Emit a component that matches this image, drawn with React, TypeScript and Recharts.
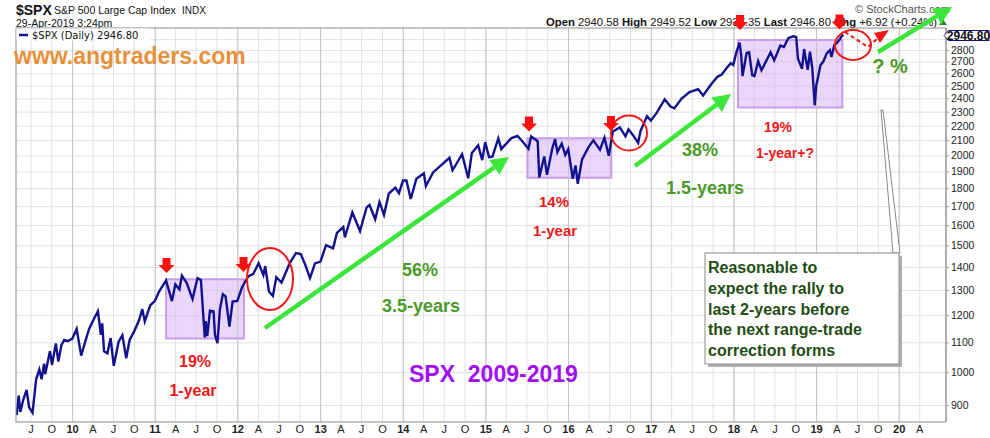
import { CartesianGrid, Line, LineChart, ReferenceArea, ReferenceLine, XAxis, YAxis } from "recharts";

// SPX closes (roughly twice a month, with swing highs / lows)
const dates = [
    "2009-04-29", "2009-05-08", "2009-05-15", "2009-05-29", "2009-06-12", "2009-06-23", "2009-07-08", "2009-07-24", "2009-08-07", "2009-08-17", "2009-08-28", "2009-09-02", "2009-09-23", "2009-10-02", "2009-10-19", "2009-10-30", "2009-11-13", "2009-11-25", "2009-12-11", "2009-12-31",
    "2010-01-19", "2010-02-08", "2010-02-26", "2010-03-15", "2010-04-05", "2010-04-23", "2010-05-06", "2010-05-12", "2010-05-20", "2010-06-04", "2010-06-18", "2010-07-02", "2010-07-23", "2010-08-09", "2010-08-26", "2010-09-10", "2010-09-30", "2010-10-22", "2010-11-05", "2010-11-16", "2010-12-10", "2010-12-31",
    "2011-01-18", "2011-02-18", "2011-03-16", "2011-03-31", "2011-04-18", "2011-04-29", "2011-05-20", "2011-06-15", "2011-07-07", "2011-07-22", "2011-08-08", "2011-08-12", "2011-08-19", "2011-08-31", "2011-09-16", "2011-09-22", "2011-10-03", "2011-10-14", "2011-10-27", "2011-11-08", "2011-11-25", "2011-12-09", "2011-12-30",
    "2012-01-20", "2012-02-17", "2012-03-09", "2012-04-02", "2012-04-23", "2012-05-01", "2012-05-18", "2012-06-04", "2012-06-19", "2012-07-12", "2012-08-17", "2012-09-14", "2012-10-05", "2012-10-25", "2012-11-15", "2012-12-07", "2012-12-31",
    "2013-01-25", "2013-02-25", "2013-03-14", "2013-04-11", "2013-04-18", "2013-05-21", "2013-06-24", "2013-07-23", "2013-08-05", "2013-08-30", "2013-09-18", "2013-10-08", "2013-10-29", "2013-11-27", "2013-12-13", "2013-12-31",
    "2014-01-15", "2014-02-03", "2014-02-28", "2014-04-02", "2014-04-11", "2014-05-13", "2014-06-24", "2014-07-24", "2014-08-07", "2014-09-18", "2014-10-15", "2014-10-31", "2014-11-28", "2014-12-16", "2014-12-29",
    "2015-01-15", "2015-01-30", "2015-02-25", "2015-03-10", "2015-04-24", "2015-05-21", "2015-06-12", "2015-07-08", "2015-07-20", "2015-08-18", "2015-08-25", "2015-09-16", "2015-09-28", "2015-10-22", "2015-11-03", "2015-11-13", "2015-12-02", "2015-12-18", "2015-12-31",
    "2016-01-20", "2016-02-01", "2016-02-11", "2016-03-01", "2016-03-31", "2016-04-20", "2016-05-19", "2016-06-08", "2016-06-27", "2016-07-15", "2016-08-15", "2016-09-09", "2016-09-22", "2016-10-14", "2016-11-04", "2016-11-14", "2016-12-13", "2016-12-30",
    "2017-01-26", "2017-03-01", "2017-03-27", "2017-04-13", "2017-05-15", "2017-06-19", "2017-07-27", "2017-08-18", "2017-09-20", "2017-10-20", "2017-11-08", "2017-11-30", "2017-12-18", "2017-12-29",
    "2018-01-12", "2018-01-26", "2018-02-02", "2018-02-08", "2018-02-26", "2018-03-09", "2018-03-23", "2018-04-02", "2018-04-18", "2018-05-03", "2018-06-12", "2018-06-28", "2018-07-25", "2018-08-10", "2018-08-29", "2018-09-20", "2018-10-03", "2018-10-11", "2018-10-29", "2018-11-07", "2018-11-23", "2018-12-03", "2018-12-13", "2018-12-24", "2018-12-31",
    "2019-01-08", "2019-01-18", "2019-01-31", "2019-02-15", "2019-03-01", "2019-03-08", "2019-03-21", "2019-04-01", "2019-04-15", "2019-04-23", "2019-04-29",
];

const closes = [
    873, 929, 882, 919, 946, 895, 880, 979, 1010, 979, 1029, 995, 1071, 1025, 1098, 1036, 1093, 1110, 1106, 1115,
    1150, 1056, 1104, 1150, 1187, 1217, 1128, 1171, 1071, 1064, 1117, 1022, 1103, 1127, 1047, 1110, 1141, 1183, 1225, 1178, 1240, 1258,
    1296, 1343, 1257, 1326, 1305, 1364, 1333, 1265, 1353, 1345, 1119, 1179, 1124, 1219, 1216, 1129, 1099, 1225, 1285, 1276, 1159, 1255, 1258,
    1315, 1361, 1370, 1419, 1366, 1406, 1295, 1278, 1357, 1334, 1418, 1466, 1461, 1412, 1353, 1418, 1426,
    1503, 1488, 1563, 1593, 1541, 1669, 1573, 1696, 1709, 1633, 1726, 1656, 1772, 1807, 1775, 1848,
    1848, 1742, 1859, 1891, 1816, 1897, 1950, 1988, 1910, 2011, 1862, 2018, 2068, 1973, 2090,
    1992, 1995, 2115, 2044, 2117, 2131, 2094, 2046, 2128, 2096, 1867, 1996, 1882, 2052, 2110, 2023, 2080, 2006, 2044,
    1859, 1940, 1829, 1978, 2060, 2102, 2040, 2119, 2001, 2162, 2190, 2128, 2177, 2133, 2085, 2164, 2271, 2239,
    2298, 2396, 2342, 2329, 2402, 2453, 2475, 2426, 2508, 2575, 2594, 2648, 2690, 2674,
    2786, 2873, 2762, 2581, 2780, 2786, 2588, 2582, 2708, 2630, 2786, 2716, 2846, 2833, 2914, 2931, 2925, 2728, 2641, 2814, 2633, 2790, 2651, 2351, 2507,
    2574, 2671, 2704, 2776, 2804, 2743, 2854, 2868, 2907, 2934, 2947,
];

const xTicks = [
    "2009-07-01", "2009-10-01",
    "2010-01-01", "2010-04-01", "2010-07-01", "2010-10-01",
    "2011-01-01", "2011-04-01", "2011-07-01", "2011-10-01",
    "2012-01-01", "2012-04-01", "2012-07-01", "2012-10-01",
    "2013-01-01", "2013-04-01", "2013-07-01", "2013-10-01",
    "2014-01-01", "2014-04-01", "2014-07-01", "2014-10-01",
    "2015-01-01", "2015-04-01", "2015-07-01", "2015-10-01",
    "2016-01-01", "2016-04-01", "2016-07-01", "2016-10-01",
    "2017-01-01", "2017-04-01", "2017-07-01", "2017-10-01",
    "2018-01-01", "2018-04-01", "2018-07-01", "2018-10-01",
    "2019-01-01", "2019-04-01", "2019-07-01", "2019-10-01",
    "2020-01-01", "2020-04-01",
];

const monthLetters: Record<string, string> = { "04": "A", "07": "J", "10": "O" };

const yTicks = [900, 1000, 1100, 1200, 1300, 1400, 1500, 1600, 1700, 1800, 1900, 2000, 2100, 2200, 2300, 2400, 2500, 2600, 2700, 2800, 2900];

// sideways "range-trade" boxes
const ranges = [
    { from: "2011-02-18", to: "2012-01-28", low: 1115, high: 1348 },
    { from: "2015-07-04", to: "2016-07-08", low: 1865, high: 2116 },
    { from: "2018-01-19", to: "2019-04-25", low: 2334, high: 2897 },
];

const ms = (d: string) => Date.parse(d + "T00:00:00Z");

const data = dates.map((d, i) => ({ t: ms(d), close: closes[i] }));
const tickValues = xTicks.map(ms);
const yearLines = xTicks.filter(d => d.slice(5, 7) === "01").map(ms);

const FONT = "'Liberation Sans', Arial, sans-serif";
const NAVY = "#121290";
const GREEN = "#3ae63a";
const GREEN_TEXT = "#4c9a2a";
const RED = "#f01818";

const XTick = ({ x, payload }: any) => {
    const iso = new Date(payload.value).toISOString();
    const mm = iso.slice(5, 7);
    const isYear = mm === "01";
    return (
        <text x={x} y={433} textAnchor="middle" fontSize={11} fontFamily={FONT}
            fontWeight={isYear ? 700 : 400} fill="#222">
            {isYear ? iso.slice(2, 4) : monthLetters[mm]}
        </text>
    );
};

// the top label sits under the last-price tag, so it is left out
const YTick = ({ x, y, payload }: any) => (
    payload.value === 2900 ? null : (
        <text x={x} y={y} dy={3.5} textAnchor="start" fontSize={10.5} fontFamily={FONT} fill="#222">
            {payload.value}
        </text>
    )
);

const DownArrow = ({ x, tip }: { x: number, tip: number }) => (
    <polygon
        points={`${x - 4},${tip - 15} ${x + 4},${tip - 15} ${x + 4},${tip - 8} ${x + 8},${tip - 8} ${x},${tip} ${x - 8},${tip - 8} ${x - 4},${tip - 8}`}
        fill="#ff1010"
    />
);

const GreenArrow = ({ x1, y1, x2, y2 }: { x1: number, y1: number, x2: number, y2: number }) => {
    const a = Math.atan2(y2 - y1, x2 - x1);
    const len = 18, half = 9;
    const bx = x2 - len * Math.cos(a);
    const by = y2 - len * Math.sin(a);
    const px = -Math.sin(a) * half;
    const py = Math.cos(a) * half;
    return (
        <g>
            <line x1={x1} y1={y1} x2={bx} y2={by} stroke={GREEN} strokeWidth={4.5} />
            <polygon points={`${x2},${y2} ${bx + px},${by + py} ${bx - px},${by - py}`} fill={GREEN} />
        </g>
    );
};

const Label = ({ x, y, size, color, children }: any) => (
    <text x={x} y={y} textAnchor="middle" fontSize={size} fontWeight={700} fontFamily={FONT} fill={color}>
        {children}
    </text>
);

const Overlay = () => (
    <svg width={990} height={438} style={{ position: "absolute", left: 0, top: 0, pointerEvents: "none" }}
        fontFamily={FONT}>
        {/* header */}
        <text x={16} y={15} fontSize={14} fontWeight={700} fill="#111">$SPX</text>
        <text x={54} y={14} fontSize={10.5} fill="#111">S&amp;P 500 Large Cap Index</text>
        <text x={182} y={14} fontSize={10} fill="#111">INDX</text>
        <text x={16} y={27} fontSize={10.5} fill="#111">29-Apr-2019 3:24pm</text>
        <text x={855} y={13} fontSize={11} fill="#555">© StockCharts.com</text>
        <text x={937} y={26} fontSize={11.5} textAnchor="end" fill="#111" textLength={391} lengthAdjust="spacingAndGlyphs">
            <tspan fontWeight={700}>Open</tspan> 2940.58 <tspan fontWeight={700}>High</tspan> 2949.52 <tspan fontWeight={700}>Low</tspan> 2937.35 <tspan fontWeight={700}>Last</tspan> 2946.80 <tspan fontWeight={700}>Chg</tspan> +6.92 (+0.24%)
        </text>
        <polygon points="939,25 947,25 943,19" fill="#2a8a2a" />

        {/* plot frame */}
        <rect x={16} y={28} width={930} height={394} fill="none" stroke="#9a9a9a" strokeWidth={1} />

        {/* legend */}
        <rect x={16.5} y={28.5} width={134} height={12} fill="#fff" />
        <line x1={19} y1={35} x2={28} y2={35} stroke={NAVY} strokeWidth={2.5} />
        <text x={32} y={39} fontSize={10} fontFamily="'DejaVu Sans', Verdana, sans-serif" fill="#111">$SPX (Daily) 2946.80</text>

        {/* last price tag */}
        <polygon points="944,35.5 948.5,30.5 989,30.5 989,40.5 948.5,40.5" fill="#fff" stroke="#10107a" strokeWidth={1} />
        <text x={968.5} y={39.5} textAnchor="middle" fontSize={12} fontWeight={700} fill="#111">2946.80</text>

        <text x={14} y={64} fontSize={23} fontWeight={700} fill="#e8913a">www.angtraders.com</text>

        {/* red circles */}
        <ellipse cx={270} cy={279} rx={23} ry={31} fill="none" stroke={RED} strokeWidth={2} />
        <ellipse cx={629} cy={133} rx={18} ry={17.5} fill="none" stroke={RED} strokeWidth={2} />
        <ellipse cx={853} cy={45} rx={18} ry={15} fill="none" stroke={RED} strokeWidth={2} />

        {/* dashed projection */}
        <polyline points="845,32 868,47 877,39" fill="none" stroke={RED} strokeWidth={2} strokeDasharray="4 3" />
        <polygon points="889,30 874,33 880,43" fill={RED} />

        {/* red down arrows */}
        <DownArrow x={166.5} tip={273} />
        <DownArrow x={243.5} tip={272} />
        <DownArrow x={529} tip={131.5} />
        <DownArrow x={611} tip={131} />
        <DownArrow x={740} tip={30} />
        <DownArrow x={839.5} tip={29.5} />

        {/* green trend arrows */}
        <GreenArrow x1={265} y1={328} x2={509} y2={157} />
        <GreenArrow x1={635} y1={166} x2={731} y2={94} />
        <GreenArrow x1={878} y1={52} x2={952} y2={7} />

        {/* labels */}
        <Label x={195} y={367} size={16} color={RED}>19%</Label>
        <Label x={193} y={396} size={16} color={RED}>1-year</Label>
        <Label x={420} y={276} size={18} color={GREEN_TEXT}>56%</Label>
        <Label x={421} y={312} size={18} color={GREEN_TEXT}>3.5-years</Label>
        <Label x={554} y={207} size={15} color={RED}>14%</Label>
        <Label x={555} y={236} size={15} color={RED}>1-year</Label>
        <Label x={700} y={156} size={18} color={GREEN_TEXT}>38%</Label>
        <Label x={705} y={194} size={18} color={GREEN_TEXT}>1.5-years</Label>
        <Label x={778} y={132} size={14} color={RED}>19%</Label>
        <Label x={785} y={158} size={14} color={RED}>1-year+?</Label>
        <Label x={890} y={73} size={20} color={GREEN_TEXT}>? %</Label>
        <text x={409} y={382} fontSize={23} fontWeight={700} fill="#a010f0" xmlSpace="preserve">SPX  2009-2019</text>

        {/* callout */}
        <polygon points="881,110 883,110 900,253 893,253" fill="#fff" stroke="#8a8a8a" strokeWidth={1} />
        <rect x={708} y={256} width={194} height={111} fill="#b0b0b0" />
        <rect x={705} y={253} width={194} height={111} fill="#fff" stroke="#8a8a8a" strokeWidth={1} />
        {["Reasonable to", "expect the rally to", "last 2-years before", "the next range-trade", "correction forms"].map((s, i) => (
            <text key={s} x={708} y={273 + i * 20.8} fontSize={16} fontWeight={700} fill="#1f4d14">{s}</text>
        ))}
    </svg>
);

const App = () => {

    // render

    return (
        <div style={{ position: "absolute", left: 0, top: 0, width: 990, height: 438, background: "#fff" }}>
            <LineChart width={990} height={438} data={data} margin={{ top: 28, right: 0, bottom: 0, left: 16 }}>
                <CartesianGrid stroke="#e0e0e0" strokeWidth={1} />
                {yearLines.map(v => (
                    <ReferenceLine key={v} x={v} stroke="#c4c4c4" strokeWidth={1} />
                ))}
                {ranges.map(r => (
                    <ReferenceArea key={r.from} x1={ms(r.from)} x2={ms(r.to)} y1={r.low} y2={r.high}
                        fill="#dcbaf4" fillOpacity={0.6} stroke="#c99ceb" strokeWidth={2} ifOverflow="visible" />
                ))}
                <XAxis
                    dataKey="t"
                    type="number"
                    domain={[ms("2009-04-26"), ms("2020-07-26")]}
                    ticks={tickValues}
                    interval={0}
                    tick={<XTick />}
                    tickLine={false}
                    axisLine={false}
                    height={16}
                    allowDataOverflow
                />
                <YAxis
                    orientation="right"
                    scale="log"
                    domain={[854, 3010]}
                    ticks={yTicks}
                    interval={0}
                    allowDataOverflow
                    width={44}
                    tickSize={3}
                    tickMargin={2}
                    stroke="#999"
                    tick={<YTick />}
                />
                <Line
                    type="linear"
                    dataKey="close"
                    stroke={NAVY}
                    strokeWidth={2.4}
                    dot={false}
                    isAnimationActive={false}
                />
            </LineChart>
            <Overlay />
        </div>
    )
}

export default App
